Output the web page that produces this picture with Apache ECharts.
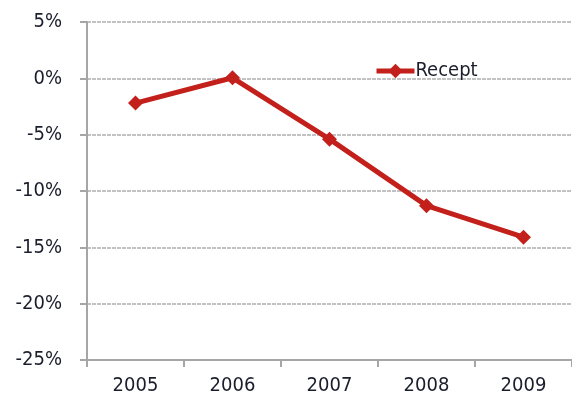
<!DOCTYPE html>
<html>
<head>
<meta charset="utf-8">
<script src="https://cdn.jsdelivr.net/npm/echarts@6/dist/echarts.min.js"></script>
<style>
html,body{margin:0;padding:0;background:#fff;}
#c{width:572px;height:410px;}
</style>
</head>
<body>
<div id="c"></div>
<script>
var categories = ['2005', '2006', '2007', '2008', '2009'];
var receptValues = [-2.2, 0.05, -5.4, -11.3, -14.1];
var seriesName = 'Recept';
var yMin = -25, yMax = 5, yStep = 5;

var FONT = '"Liberation Sans Narrow", "DejaVu Sans Condensed", "Roboto", sans-serif';
var chart = echarts.init(document.getElementById('c'), null, {renderer: 'canvas'});
chart.setOption({
  backgroundColor: '#ffffff',
  animation: false,
  grid: {left: 87, right: 0, top: 22, bottom: 50, containLabel: false},
  legend: {
    data: [seriesName],
    left: 374, top: 61,
    padding: 0,
    itemWidth: 38, itemHeight: 18,
    itemGap: 0,
    textStyle: {fontFamily: FONT, fontSize: 20, color: '#1a1d2b', padding: [0,0,0,-4]},
    itemStyle: {color: '#c3201b'},
    lineStyle: {color: '#c3201b', width: 5}
  },
  xAxis: {
    type: 'category',
    data: categories,
    boundaryGap: true,
    axisLine: {show: true, onZero: false, lineStyle: {color: '#a6a6a6', width: 2}},
    axisTick: {show: true, length: 7, inside: false, lineStyle: {color: '#a6a6a6', width: 2}},
    axisLabel: {fontFamily: FONT, fontSize: 20, color: '#1a1d2b', margin: 16},
    splitLine: {show: false}
  },
  yAxis: {
    type: 'value',
    min: yMin, max: yMax, interval: yStep,
    axisLine: {show: true, lineStyle: {color: '#a6a6a6', width: 2}},
    axisTick: {show: true, length: 7, lineStyle: {color: '#a6a6a6', width: 2}},
    axisLabel: {fontFamily: FONT, fontSize: 20, color: '#1a1d2b', margin: 25,
      formatter: function(v){ return v + '%'; }},
    splitLine: {show: true, lineStyle: {color: '#c2c2c2', width: 2, type: [4, 1]}}
  },
  series: [{
    name: seriesName,
    type: 'line',
    data: receptValues,
    symbol: 'diamond',
    symbolSize: 15,
    lineStyle: {color: '#c3201b', width: 5},
    itemStyle: {color: '#c3201b'},
    z: 5
  }]
});
</script>
</body>
</html>
